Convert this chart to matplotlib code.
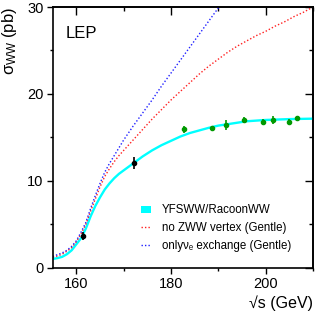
import numpy as np
import matplotlib
matplotlib.use("Agg")
import matplotlib.pyplot as plt
from matplotlib.patches import Patch
from matplotlib.lines import Line2D
from matplotlib.ticker import MultipleLocator

plt.rcParams['font.family'] = ['Liberation Sans', 'DejaVu Sans']
plt.rcParams['mathtext.fontset'] = 'custom'
plt.rcParams['mathtext.rm'] = 'Liberation Sans'
plt.rcParams['mathtext.it'] = 'Liberation Sans:italic'
plt.rcParams['mathtext.default'] = 'regular'

# YFSWW/RacoonWW prediction
sm_s = [155, 156, 157, 158, 159, 160, 161, 162, 163, 164, 165, 166, 167, 168, 169, 170, 171, 172,
        174, 176, 178, 180, 182, 184, 186, 188, 190, 193, 196, 200, 205, 210]
sm_xs = [1.0, 1.1, 1.25, 1.55, 2.0, 2.7, 3.4, 4.5, 5.9, 7.1, 8.1, 9.0, 9.7, 10.3, 10.8, 11.2, 11.6, 12.0,
         12.8, 13.5, 14.1, 14.6, 15.1, 15.5, 15.8, 16.1, 16.35, 16.6, 16.85, 17.0, 17.1, 17.15]

# no ZWW vertex (Gentle)
nozww_s = [155, 156, 157, 158, 159, 160, 161, 162, 163, 164, 165, 166, 167, 168, 169, 170, 172, 174, 176,
           178, 180, 182, 184, 186, 188, 190, 192, 194, 196, 198, 200, 202, 204, 206, 208, 210]
nozww_xs = [1.2, 1.35, 1.55, 1.9, 2.3, 3.0, 3.9, 5.0, 6.5, 7.9, 9.3, 10.5, 11.4, 12.2, 12.9, 13.5, 14.7, 15.9, 17.1,
            18.2, 19.3, 20.3, 21.3, 22.3, 23.2, 24.0, 24.8, 25.5, 26.1, 26.7, 27.2, 27.8, 28.3, 28.9, 29.4, 30.0]

# only nu_e exchange (Gentle)
nue_s = [155, 156, 157, 158, 159, 160, 161, 162, 163, 164, 165, 166, 167, 168, 170, 172, 174, 176, 178,
         180, 182, 184, 186, 188, 190, 192]
nue_xs = [1.3, 1.5, 1.7, 2.0, 2.45, 3.1, 4.1, 5.2, 6.8, 8.3, 9.7, 11.0, 12.0, 12.9, 14.7, 16.3, 17.8, 19.3, 20.9,
          22.4, 23.9, 25.4, 26.9, 28.4, 29.9, 31.3]

# LEP measurements
lep_black_s = [161.3, 172.1]
lep_black_xs = [3.69, 12.0]
lep_black_err = [0.45, 0.7]

lep_green_s = [182.7, 188.6, 191.6, 195.5, 199.5, 201.6, 204.9, 206.6]
lep_green_xs = [15.92, 16.05, 16.42, 16.99, 16.77, 16.98, 16.81, 17.20]
lep_green_err = [0.40, 0.22, 0.55, 0.30, 0.30, 0.42, 0.30, 0.25]

fig = plt.figure(figsize=(3.16, 3.14), dpi=100)
ax = fig.add_axes([0.1668, 0.1475, 0.8237, 0.8302])

ax.plot(sm_s, sm_xs, color='#00FFFF', lw=1.7, solid_capstyle='butt', zorder=2)
ax.plot(nozww_s, nozww_xs, color='#FF2020', lw=1.0, ls=(0, (1, 1.5)), zorder=2)
ax.plot(nue_s, nue_xs, color='#2020FF', lw=1.0, ls=(0, (1, 1.5)), zorder=2)

ax.errorbar(lep_black_s, lep_black_xs, yerr=lep_black_err, fmt='o', color='black',
            ms=3, elinewidth=1.2, capsize=0, zorder=4)
ax.errorbar(lep_green_s, lep_green_xs, yerr=lep_green_err, fmt='o', color='#009900',
            ms=3, elinewidth=1.2, capsize=0, zorder=4)

ax.set_xlim(155, 210)
ax.set_ylim(0, 30)

ax.xaxis.set_major_locator(MultipleLocator(20))
ax.xaxis.set_minor_locator(MultipleLocator(10))
ax.yaxis.set_major_locator(MultipleLocator(10))
ax.yaxis.set_minor_locator(MultipleLocator(5))
ax.tick_params(which='both', direction='out', labelsize=10.5, width=1.0, pad=2)
ax.tick_params(which='major', length=4.5)
ax.tick_params(which='minor', length=2.3)

for sp in ax.spines.values():
    sp.set_linewidth(1.2)

top = ax.secondary_xaxis('top')
top.xaxis.set_major_locator(MultipleLocator(20))
top.xaxis.set_minor_locator(MultipleLocator(10))
top.tick_params(which='both', direction='in', labeltop=False, width=1.0)
top.tick_params(which='major', length=5.5)
top.tick_params(which='minor', length=3)
top.spines['top'].set_linewidth(1.2)

right = ax.secondary_yaxis('right')
right.yaxis.set_major_locator(MultipleLocator(10))
right.yaxis.set_minor_locator(MultipleLocator(5))
right.tick_params(which='both', direction='in', labelright=False, width=1.0)
right.tick_params(which='major', length=5.5)
right.tick_params(which='minor', length=3)
right.spines['right'].set_linewidth(1.2)

ax.set_xlabel('√s (GeV)', fontsize=11.5, loc='right', labelpad=3)
ax.set_ylabel('σ$_{WW}$ (pb)', fontsize=12, loc='top', labelpad=6)

ax.text(0.05, 0.9, 'LEP', transform=ax.transAxes, fontsize=12, ha='left', va='center')

handles = [
    Patch(facecolor='#00FFFF', edgecolor='none'),
    Line2D([], [], color='#FF2020', lw=1.0, ls=(0, (1, 1.5))),
    Line2D([], [], color='#2020FF', lw=1.0, ls=(0, (1, 1.5))),
]
labels = ['YFSWW/RacoonWW', 'no ZWW vertex (Gentle)', 'onlyνₑ exchange (Gentle)']
ax.legend(handles, labels, loc='lower left', bbox_to_anchor=(0.31, 0.03), frameon=False,
          fontsize=8.3, handlelength=0.8, handleheight=0.6, handletextpad=1.0,
          labelspacing=0.5, borderpad=0.2)

fig.savefig('out.png', dpi=100)
